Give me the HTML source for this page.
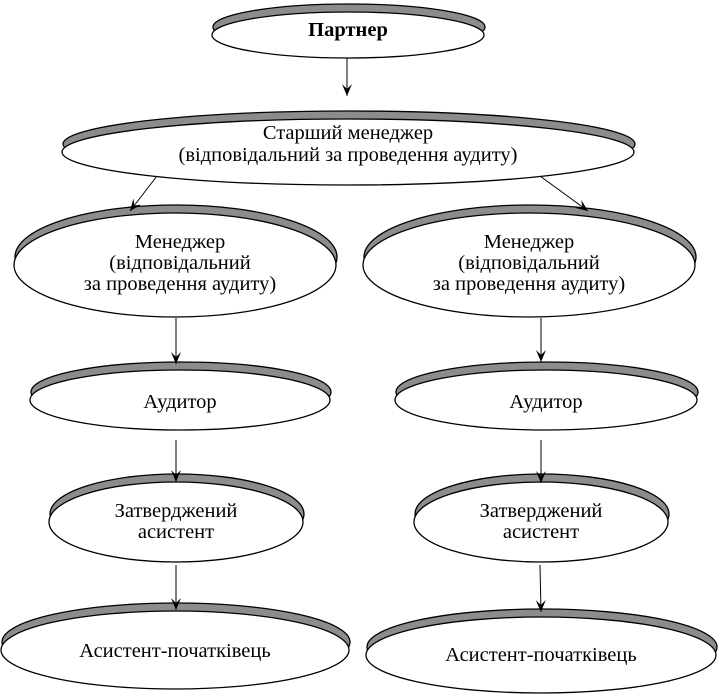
<!DOCTYPE html>
<html><head><meta charset="utf-8"><style>
html,body{margin:0;padding:0;background:#fff}
text{font-family:"Liberation Serif",serif;font-size:20.5px;fill:#000}
</style></head><body>
<svg width="720" height="695" viewBox="0 0 720 695" xmlns="http://www.w3.org/2000/svg">
<defs><marker id="a" markerWidth="12" markerHeight="10" refX="12" refY="5" orient="auto" viewBox="0 0 12 10" markerUnits="userSpaceOnUse">
<path d="M0,0 L12,5 L0,10 L5,5 Z" fill="#000"/></marker></defs>
<g stroke="#000" stroke-width="1.3">
<g fill="#8c8c8c">
<ellipse cx="349" cy="27" rx="136" ry="23"/>
<ellipse cx="349" cy="144" rx="286" ry="33"/>
<ellipse cx="176" cy="257" rx="161" ry="52"/>
<ellipse cx="530" cy="257" rx="166" ry="52"/>
<ellipse cx="181" cy="392" rx="150" ry="30"/>
<ellipse cx="547" cy="392" rx="151" ry="30"/>
<ellipse cx="177" cy="514" rx="127" ry="40"/>
<ellipse cx="542" cy="514" rx="127" ry="40"/>
<ellipse cx="176" cy="642" rx="174" ry="39"/>
<ellipse cx="542" cy="647" rx="175" ry="38"/>
</g>
<g fill="#fff">
<ellipse cx="348" cy="35" rx="136" ry="23"/>
<ellipse cx="348" cy="152" rx="286" ry="33"/>
<ellipse cx="175" cy="265" rx="161" ry="52"/>
<ellipse cx="529" cy="265" rx="166" ry="52"/>
<ellipse cx="180" cy="400" rx="150" ry="30"/>
<ellipse cx="546" cy="400" rx="151" ry="30"/>
<ellipse cx="176" cy="522" rx="127" ry="40"/>
<ellipse cx="541" cy="522" rx="127" ry="40"/>
<ellipse cx="175" cy="650" rx="174" ry="39"/>
<ellipse cx="541" cy="655" rx="175" ry="38"/>
</g>
<g fill="none" stroke-width="1" marker-end="url(#a)">
<line x1="347" y1="58" x2="347" y2="96"/>
<line x1="157" y1="176" x2="130" y2="211"/>
<line x1="540" y1="176" x2="588" y2="211"/>
<line x1="176" y1="318" x2="176" y2="364"/>
<line x1="541" y1="318" x2="541" y2="362"/>
<line x1="176" y1="440" x2="176" y2="482"/>
<line x1="541" y1="440" x2="541" y2="483"/>
<line x1="176" y1="565" x2="176" y2="610"/>
<line x1="540" y1="565" x2="541" y2="612"/>
</g>
</g>
<g text-anchor="middle">
<text x="348" y="36" font-weight="bold">Партнер</text>
<text x="348" y="139">Старший менеджер</text>
<text x="348" y="161">(відповідальний за проведення аудиту)</text>
<text x="180" y="248">Менеджер</text>
<text x="180" y="269">(відповідальний</text>
<text x="180" y="290">за проведення аудиту)</text>
<text x="529" y="248">Менеджер</text>
<text x="529" y="269">(відповідальний</text>
<text x="529" y="290">за проведення аудиту)</text>
<text x="180" y="408">Аудитор</text>
<text x="546" y="408">Аудитор</text>
<text x="176" y="517">Затверджений</text>
<text x="176" y="538">асистент</text>
<text x="541" y="517">Затверджений</text>
<text x="541" y="538">асистент</text>
<text x="175" y="657">Асистент-початківець</text>
<text x="541" y="661">Асистент-початківець</text>
</g>
</svg>
</body></html>
